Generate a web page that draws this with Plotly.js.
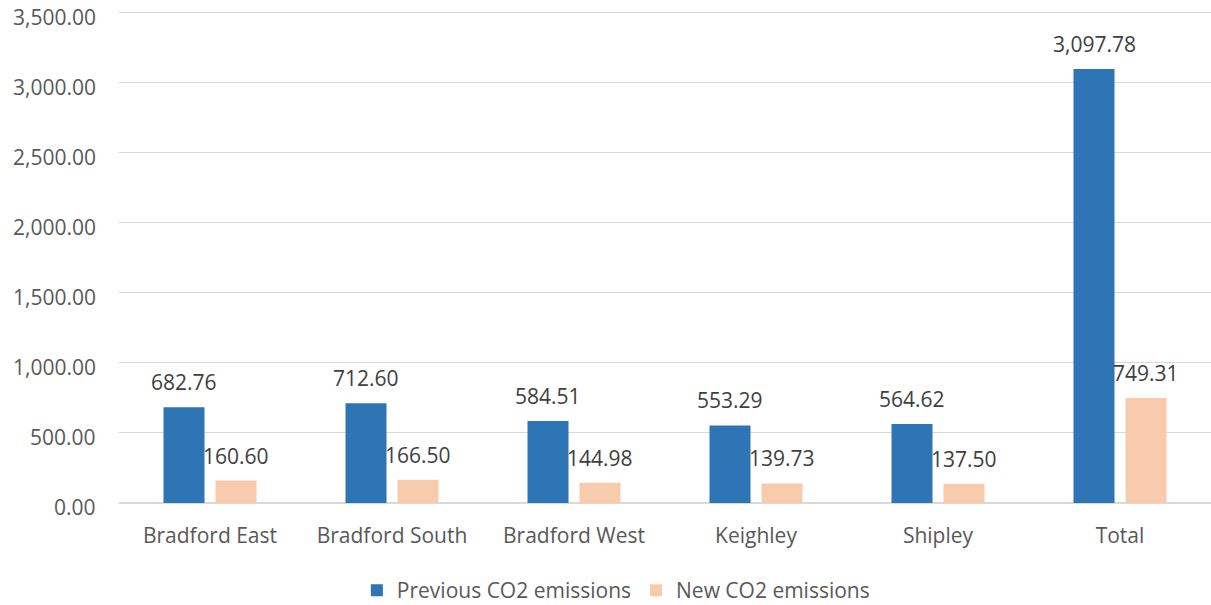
<!DOCTYPE html>
<html>
<head>
<meta charset="utf-8">
<script src="https://cdn.plot.ly/plotly-3.0.1.min.js"></script>
<style>html,body{margin:0;padding:0;background:#fff;}#chart{width:1211px;height:605px;}</style>
</head>
<body>
<div id="chart"></div>
<script>
const categories = ["Bradford East", "Bradford South", "Bradford West", "Keighley", "Shipley", "Total"];
const previousCO2 = [682.76, 712.60, 584.51, 553.29, 564.62, 3097.78];
const newCO2 = [160.60, 166.50, 144.98, 139.73, 137.50, 749.31];
const yTicks = [0, 500, 1000, 1500, 2000, 2500, 3000, 3500];
const seriesNames = ["Previous CO2 emissions", "New CO2 emissions"];

const FONT = "Open Sans, Noto Sans, sans-serif";
const GRAY = "#595959";
const FS = 21;

const fmt = v => v.toLocaleString("en-US", {minimumFractionDigits: 2, maximumFractionDigits: 2});

const traces = [
  {type: "bar", name: seriesNames[0], x: categories, y: previousCO2, marker: {color: "#2E75B6"}, hoverinfo: "x+y"},
  {type: "bar", name: seriesNames[1], x: categories, y: newCO2, marker: {color: "#F8CBAD"}, hoverinfo: "x+y"}
];

const annotations = [];
[[previousCO2, -26], [newCO2, 26]].forEach(([vals, shift]) => {
  vals.forEach((v, i) => {
    annotations.push({
      x: categories[i], y: v, xref: "x", yref: "y",
      text: fmt(v), showarrow: false,
      xanchor: "center", yanchor: "middle",
      xshift: shift, yshift: 25,
      font: {family: FONT, size: FS, color: "#404040"}
    });
  });
});
// y-axis tick labels, placed at the axis tick values (slightly below each gridline, as in the reference)
yTicks.forEach(t => {
  annotations.push({
    x: 0, xref: "paper", y: t, yref: "y",
    text: fmt(t), showarrow: false,
    xanchor: "right", yanchor: "middle",
    xshift: -21, yshift: -4,
    font: {family: FONT, size: FS, color: GRAY}
  });
});

const layout = {
  width: 1211, height: 605,
  margin: {l: 119, r: 0, t: 7, b: 102, autoexpand: false},
  paper_bgcolor: "#fff", plot_bgcolor: "#fff",
  barmode: "group", bargap: 0.4286, bargroupgap: 0.2115,
  font: {family: FONT, size: FS, color: GRAY},
  xaxis: {
    type: "category", showgrid: false, showline: false, zeroline: false,
    ticks: "", ticklabelstandoff: 18,
    tickfont: {family: FONT, size: FS, color: GRAY}
  },
  yaxis: {
    range: [0, 3540], tickvals: yTicks, showticklabels: false,
    showgrid: true, gridcolor: "#d9d9d9", gridwidth: 1,
    zeroline: true, zerolinecolor: "#d9d9d9", zerolinewidth: 1.5,
    showline: false, ticks: ""
  },
  showlegend: true,
  legend: {
    orientation: "h", xref: "paper", yref: "container",
    x: 0.455, xanchor: "center", y: 0.024, yanchor: "middle",
    font: {family: FONT, size: FS, color: GRAY},
    itemwidth: 30, traceorder: "normal"
  },
  annotations: annotations
};

Plotly.newPlot("chart", traces, layout, {displayModeBar: false, staticPlot: true});
</script>
</body>
</html>
